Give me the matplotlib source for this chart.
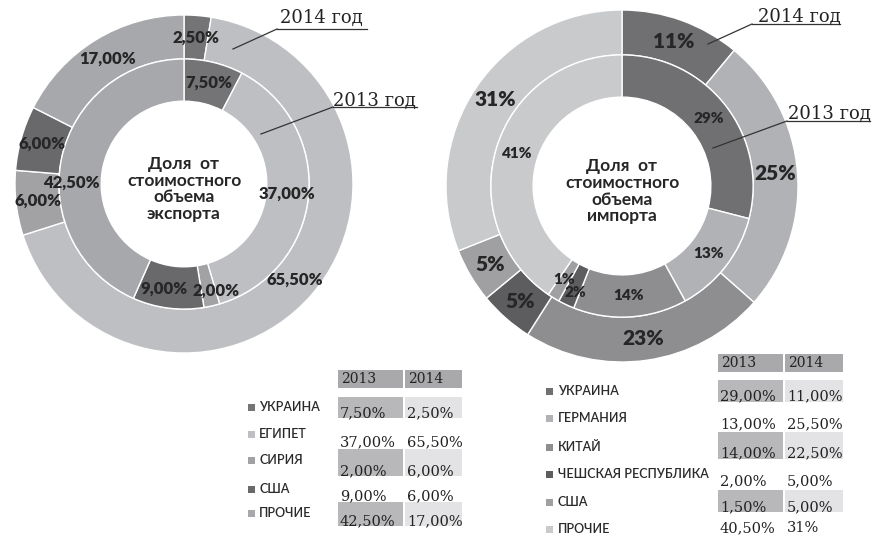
import matplotlib
matplotlib.use('Agg')
import numpy as np
import matplotlib.pyplot as plt
from matplotlib.patches import Rectangle
from matplotlib.lines import Line2D

# ---------------- data ----------------
exp_countries = ['УКРАИНА', 'ЕГИПЕТ', 'СИРИЯ', 'США', 'ПРОЧИЕ']
exp_2013 = [7.5, 37.0, 2.0, 9.0, 42.5]
exp_2014 = [2.5, 65.5, 6.0, 6.0, 17.0]
exp_colors = ['#747477', '#bebfc3', '#a2a2a5', '#69696c', '#a7a8ab']

imp_countries = ['УКРАИНА', 'ГЕРМАНИЯ', 'КИТАЙ', 'ЧЕШСКАЯ РЕСПУБЛИКА', 'США', 'ПРОЧИЕ']
imp_2013 = [29.0, 13.0, 14.0, 2.0, 1.5, 40.5]
imp_2014 = [11.0, 25.5, 22.5, 5.0, 5.0, 31.0]
imp_colors = ['#707073', '#b1b2b5', '#8e8e91', '#5d5d60', '#a0a0a3', '#c9cacc']
imp_2013_labels = ['29%', '13%', '14%', '2%', '1%', '41%']
imp_2014_labels = ['11%', '25%', '23%', '5%', '5%', '31%']
imp_2014_table = ['11,00%', '25,50%', '22,50%', '5,00%', '5,00%', '31%']

years = ['2013', '2014']


def pct(v):
    return f"{v:.2f}".replace('.', ',') + '%'


# ---------------- figure ----------------
W, H = 889, 537
fig = plt.figure(figsize=(W / 100, H / 100), dpi=100)
SANS = ['Lato', 'Open Sans', 'DejaVu Sans']
SERIF = ['DejaVu Serif']
TXT = '#262626'


def fx(x):
    return x / W


def fy(y):
    return 1 - y / H


def donut(cx, cy, R, r_mid, r_hole, inner_vals, outer_vals, colors,
          inner_labels, outer_labels, inner_fs, outer_fs, center_text,
          inner_nudge=None):
    inner_nudge = inner_nudge or {}
    ax = fig.add_axes([fx(cx - R), fy(cy + R), 2 * R / W, 2 * R / H])
    wp = dict(edgecolor='white', linewidth=1.0)
    ow, _ = ax.pie(outer_vals, radius=1.0, colors=colors, startangle=90,
                   counterclock=False, wedgeprops=dict(width=1 - r_mid, **wp))
    iw, _ = ax.pie(inner_vals, radius=r_mid, colors=colors, startangle=90,
                   counterclock=False, wedgeprops=dict(width=r_mid - r_hole, **wp))
    ax.set_xlim(-1, 1)
    ax.set_ylim(-1, 1)
    ax.axis('off')
    for wedges, labels, rr, fs, nud in ((ow, outer_labels, (1 + r_mid) / 2, outer_fs, {}),
                                        (iw, inner_labels, (r_mid + r_hole) / 2, inner_fs,
                                         inner_nudge)):
        for i, (w, lab) in enumerate(zip(wedges, labels)):
            th = np.deg2rad((w.theta1 + w.theta2) / 2)
            dx, dy = nud.get(i, (0, 0))
            ax.text(rr * np.cos(th) + dx / R, rr * np.sin(th) - dy / R, lab,
                    ha='center', va='center', fontsize=fs, fontweight='heavy',
                    color=TXT, family=SANS)
    ax.text(0, -0.03, center_text, ha='center', va='center', fontsize=12.5,
            fontweight='bold', color=TXT, family=SANS, linespacing=1.05)
    return ax


donut(184, 184, 169, 0.74, 0.49, exp_2013, exp_2014, exp_colors,
      [pct(v) for v in exp_2013], [pct(v) for v in exp_2014], 12, 12,
      'Доля  от\nстоимостного\nобъема\nэкспорта',
      inner_nudge={2: (9, 5), 3: (-7, 2), 4: (-11, 20)})
donut(622, 186, 176, 0.745, 0.505, imp_2013, imp_2014, imp_colors,
      imp_2013_labels, imp_2014_labels, 11, 15,
      'Доля  от\nстоимостного\nобъема\nимпорта',
      inner_nudge={3: (0, 7)})


# ---------------- year call-outs ----------------
def callout(text, tx, base, ux0, ux1, uy, px, py):
    fig.text(fx(tx), fy(base), text, ha='left', va='baseline', fontsize=13,
             family=SERIF, color='#222222')
    fig.add_artist(Line2D([fx(ux0), fx(ux1)], [fy(uy), fy(uy)], color='#333333', lw=0.9))
    fig.add_artist(Line2D([fx(ux0), fx(px)], [fy(uy), fy(py)], color='#333333', lw=0.9))


callout('2014 год', 280, 23, 277, 367, 29, 233, 49)
callout('2013 год', 333, 106, 333, 417, 107, 261, 134)
callout('2014 год', 758, 22, 752, 840, 24, 708, 44)
callout('2013 год', 788, 119, 787, 870, 121, 713, 148)


# ---------------- tables ----------------
def rect(x0, y0, x1, y1, c):
    fig.add_artist(Rectangle((fx(x0), fy(y1)), fx(x1) - fx(x0), fy(y0) - fy(y1),
                             transform=fig.transFigure, facecolor=c, edgecolor='none'))


def table(countries, colors, v13, v14, col13, col14, hdr_y, bands, baselines,
          lab_x, sq_x, lab_y):
    (a0, a1), (b0, b1) = col13, col14
    rect(a0, hdr_y[0], a1, hdr_y[1], '#a9a9ac')
    rect(b0, hdr_y[0], b1, hdr_y[1], '#a9a9ac')
    hy = (hdr_y[0] + hdr_y[1]) / 2
    fig.text(fx(a0 + 3), fy(hy), years[0], ha='left', va='center', fontsize=10,
             family=SERIF, color='#222222')
    fig.text(fx(b0 + 3), fy(hy), years[1], ha='left', va='center', fontsize=10,
             family=SERIF, color='#222222')
    for (y0, y1) in bands:
        rect(a0, y0, a1, y1, '#b8b8bb')
        rect(b0, y0, b1, y1, '#e3e3e5')
    for name, c, s13, s14, bl, ly in zip(countries, colors, v13, v14, baselines, lab_y):
        fig.text(fx(a0 + 2), fy(bl), s13, ha='left', va='baseline', fontsize=10.5,
                 family=SERIF, color='#222222')
        fig.text(fx(b0 + 2), fy(bl), s14, ha='left', va='baseline', fontsize=10.5,
                 family=SERIF, color='#222222')
        rect(sq_x, ly - 3.5, sq_x + 7, ly + 3.5, c)
        fig.text(fx(lab_x), fy(ly), name, ha='left', va='center', fontsize=9,
                 fontweight='semibold', family=SANS, color='#2a2a2a')


table(exp_countries, exp_colors, [pct(v) for v in exp_2013], [pct(v) for v in exp_2014],
      (338, 403), (405, 462), (370, 388),
      [(397, 418), (449, 476), (502, 526)],
      [417, 446, 475, 500, 525],
      259, 248, [407, 434, 460, 489, 513])

table(imp_countries, imp_colors, [pct(v) for v in imp_2013], imp_2014_table,
      (718, 783), (785, 843), (354, 372),
      [(380, 402), (432, 459), (490, 512)],
      [400, 428, 457, 485, 511, 532],
      558, 546, [391, 418, 447, 474, 502, 529])

fig.savefig('out.png', dpi=100)
